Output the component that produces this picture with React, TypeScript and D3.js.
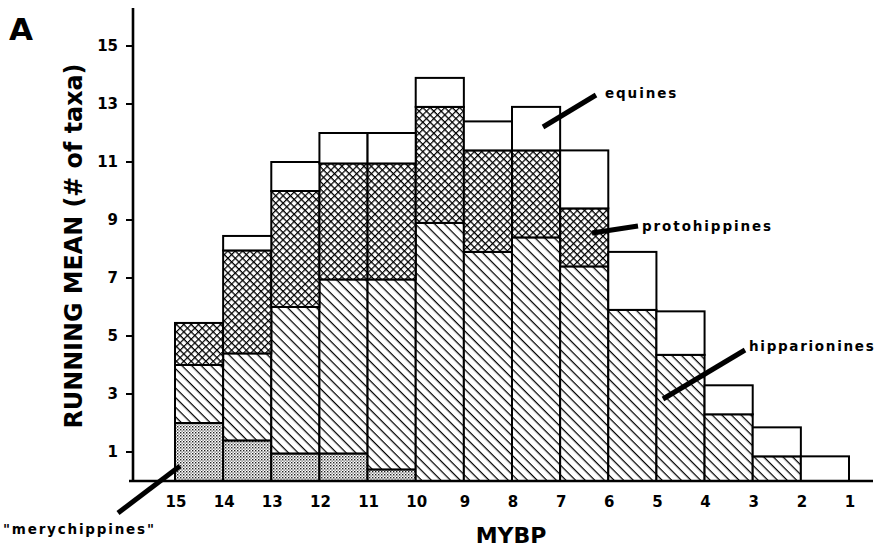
import React from "react";
import * as d3 from "d3";

// MYBP tick labels (bar edges)
const mybpTicks = [15, 14, 13, 12, 11, 10, 9, 8, 7, 6, 5, 4, 3, 2, 1];
// each bar spans [start, start-1]
const barStarts = [15, 14, 13, 12, 11, 10, 9, 8, 7, 6, 5, 4, 3, 2];
const merychippines = [2.0, 1.4, 0.95, 0.95, 0.4, 0, 0, 0, 0, 0, 0, 0, 0, 0];
const hipparionines = [2.0, 3.0, 5.05, 6.0, 6.55, 8.9, 7.9, 8.4, 7.4, 5.9, 4.35, 2.3, 0.85, 0];
const protohippines = [1.45, 3.55, 4.0, 4.0, 4.0, 4.0, 3.5, 3.0, 2.0, 0, 0, 0, 0, 0];
const equines = [0, 0.5, 1.0, 1.05, 1.05, 1.0, 1.0, 1.5, 2.0, 2.0, 1.5, 1.0, 1.0, 0.85];
const yTicks = [1, 3, 5, 7, 9, 11, 13, 15];
const seriesKeys = ["merychippines", "hipparionines", "protohippines", "equines"];
const seriesFill: Record<string, string> = {
  merychippines: "url(#stipple)",
  hipparionines: "url(#hatch)",
  protohippines: "url(#cross)",
  equines: "#ffffff",
};

const W = 883;
const H = 548;
const FONT = "'DejaVu Sans', 'Liberation Sans', Arial, sans-serif";

export default function App() {
  const x = d3.scaleLinear().domain([15, 1]).range([175, 849]);
  const y = d3.scaleLinear().domain([0, 15]).range([481, 46]);

  const table = barStarts.map((s, i) => ({
    start: s,
    merychippines: merychippines[i],
    hipparionines: hipparionines[i],
    protohippines: protohippines[i],
    equines: equines[i],
  }));
  const stacked = d3.stack<any>().keys(seriesKeys)(table);

  const axisX = 133;
  const axisTop = 8;
  const baseY = y(0);
  const lab = { fontSize: 13.5, fontWeight: "bold" as const, letterSpacing: 1.9 };

  return (
    <svg
      width={W}
      height={H}
      style={{ position: "absolute", left: 0, top: 0, background: "#fff" }}
      fontFamily={FONT}
    >
      <defs>
        <pattern id="hatch" patternUnits="userSpaceOnUse" width={6.8} height={6.8} patternTransform="rotate(45)">
          <rect width={6.8} height={6.8} fill="#fff" />
          <line x1={0} y1={0.6} x2={6.8} y2={0.6} stroke="#000" strokeWidth={1.3} />
        </pattern>
        <pattern id="cross" patternUnits="userSpaceOnUse" width={5.2} height={5.2} patternTransform="rotate(45)">
          <rect width={5.2} height={5.2} fill="#fff" />
          <path d="M0,0.6 L5.2,0.6 M0.6,0 L0.6,5.2" stroke="#000" strokeWidth={1.2} />
        </pattern>
        <pattern id="stipple" patternUnits="userSpaceOnUse" width={3} height={3}>
          <rect width={3} height={3} fill="#fff" />
          <rect x={0} y={0} width={1.4} height={1.4} fill="#222" />
          <rect x={1.5} y={1.5} width={1.2} height={1.2} fill="#444" />
        </pattern>
      </defs>
      <rect width={W} height={H} fill="#fff" />

      {/* bars */}
      {stacked.map((layer) => (
        <g key={layer.key}>
          {layer.map((d, i) => {
            const h = d[1] - d[0];
            if (h <= 0) return null;
            const s = barStarts[i];
            const x0 = x(s);
            const x1 = x(s - 1);
            return (
              <rect
                key={i}
                x={x0}
                y={y(d[1])}
                width={x1 - x0}
                height={y(d[0]) - y(d[1])}
                fill={seriesFill[layer.key]}
                stroke="#000"
                strokeWidth={2}
              />
            );
          })}
        </g>
      ))}

      {/* axes */}
      <line x1={axisX} y1={axisTop} x2={axisX} y2={baseY + 1} stroke="#000" strokeWidth={2.6} />
      <line x1={129} y1={baseY} x2={873} y2={baseY} stroke="#000" strokeWidth={2.6} />
      {yTicks.map((t) => (
        <g key={t}>
          <line x1={126} x2={axisX} y1={y(t)} y2={y(t)} stroke="#000" strokeWidth={2} />
          <text
            x={118}
            y={y(t)}
            dy="0.36em"
            textAnchor="end"
            fontSize={15}
            fontWeight="bold"
          >
            {t}
          </text>
        </g>
      ))}
      {mybpTicks.map((t) => (
        <text
          key={t}
          x={x(t) + 1}
          y={507}
          textAnchor="middle"
          fontSize={15}
          fontWeight="bold"
        >
          {t}
        </text>
      ))}

      {/* axis titles */}
      <text x={511} y={543} textAnchor="middle" fontSize={22} fontWeight="bold">
        MYBP
      </text>
      <text
        transform={`translate(82,246) rotate(-90)`}
        textAnchor="middle"
        fontSize={24}
        fontWeight="bold"
        textLength={365}
        lengthAdjust="spacingAndGlyphs"
      >
        RUNNING MEAN (# of taxa)
      </text>
      <text x={9} y={40} fontSize={31} fontWeight="bold">
        A
      </text>

      {/* annotations */}
      <line x1={543} y1={127} x2={596} y2={95} stroke="#000" strokeWidth={5} />
      <text x={605} y={98} {...lab}>
        equines
      </text>
      <line x1={592} y1={233} x2={638} y2={226} stroke="#000" strokeWidth={5} />
      <text x={642} y={231} {...lab}>
        protohippines
      </text>
      <line x1={663} y1={399} x2={745} y2={350} stroke="#000" strokeWidth={5} />
      <text x={749} y={351} {...lab} letterSpacing={1.7}>
        hipparionines
      </text>
      <line x1={118} y1={513} x2={180} y2={466} stroke="#000" strokeWidth={5} />
      <text x={3} y={534} {...lab} letterSpacing={1.8}>
        "merychippines"
      </text>
    </svg>
  );
}
